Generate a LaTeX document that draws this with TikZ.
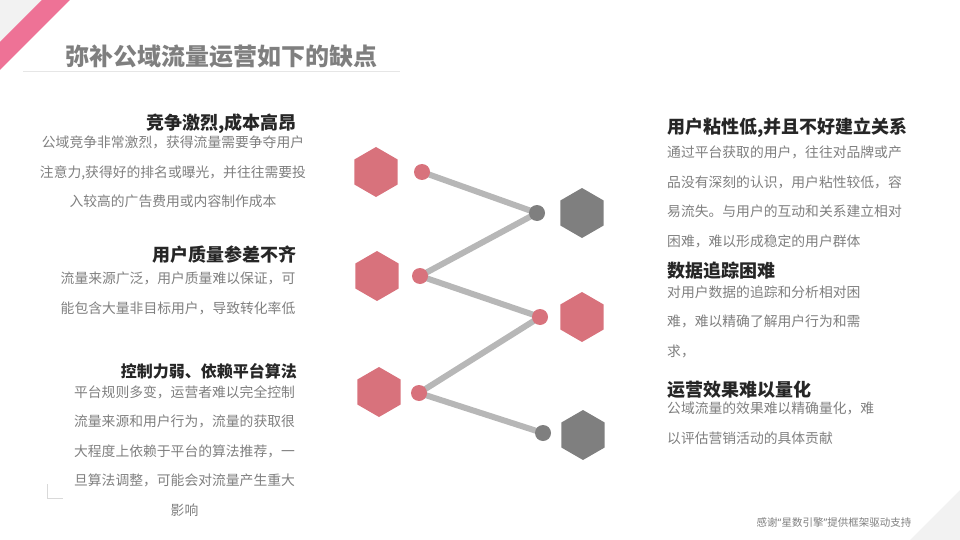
\documentclass[tikz,border=0pt]{standalone}
\usepackage{fontspec}
\setmainfont{Noto Sans CJK SC}
\newfontfamily\quotefont{Noto Sans}
\usetikzlibrary{shapes.geometric,backgrounds}
\definecolor{hexpink}{RGB}{216,114,124}
\definecolor{hexgrey}{RGB}{127,127,127}
\definecolor{linkgrey}{RGB}{183,183,183}
\definecolor{stripepink}{RGB}{238,114,150}
\definecolor{cornergrey}{RGB}{242,242,242}
\definecolor{titlegrey}{RGB}{127,127,127}
\definecolor{headdark}{RGB}{38,38,38}
\definecolor{bodygrey}{RGB}{127,127,127}
\definecolor{rulegrey}{RGB}{230,230,230}
\definecolor{markgrey}{RGB}{217,217,217}
\tikzset{
  hexa/.style={regular polygon, regular polygon sides=6, shape border rotate=30,
    minimum size=50pt, inner sep=0pt, draw=none},
  dot/.style={circle, minimum size=16pt, inner sep=0pt, draw=none},
  link/.style={line width=6pt, draw=linkgrey},
  head/.style={inner sep=0pt, text=headdark, font=\fontsize{18}{18}\selectfont\bfseries},
  headsmall/.style={inner sep=0pt, text=headdark, font=\fontsize{16}{16}\selectfont\bfseries},
  body/.style={inner sep=0pt, text=bodygrey, font=\fontsize{13.8}{14}\selectfont},
}
\begin{document}
\begin{tikzpicture}[x=1pt,y=-1pt]
\useasboundingbox (0,0) rectangle (960,540);
% corner decorations
\fill[cornergrey] (0,0) -- (42,0) -- (0,42) -- cycle;
\fill[stripepink] (42,0) -- (70,0) -- (0,70) -- (0,42) -- cycle;
\fill[cornergrey] (960,490) -- (960,540) -- (910,540) -- cycle;
\draw[markgrey, line width=1pt] (47,484) -- (47,498) -- (63,498);
% title
\node[anchor=base west, inner sep=0pt, text=titlegrey, font=\fontsize{24}{24}\selectfont\bfseries] (title) at (65,66) {弥补公域流量运营如下的缺点};
\draw[rulegrey, line width=1pt] (23,71.5) -- (400,71.5);
% hexagons
\node[hexa, fill=hexpink] (h1) at (376,172) {};
\node[hexa, fill=hexpink] (h2) at (377,276) {};
\node[hexa, fill=hexpink] (h3) at (379,392) {};
\node[hexa, fill=hexgrey] (g1) at (582,213) {};
\node[hexa, fill=hexpink] (g2) at (582,317) {};
\node[hexa, fill=hexgrey] (g3) at (583,435) {};
% dots
\node[dot, fill=hexpink] (c1) at (422,172) {};
\node[dot, fill=hexpink] (c2) at (420,276) {};
\node[dot, fill=hexpink] (c3) at (419,393) {};
\node[dot, fill=hexgrey] (d1) at (537,213) {};
\node[dot, fill=hexpink] (d2) at (540,317) {};
\node[dot, fill=hexgrey] (d3) at (543,433) {};
\begin{pgfonlayer}{background}
\draw[link] (c1.center) -- (d1.center) -- (c2.center) -- (d2.center) -- (c3.center) -- (d3.center);
\end{pgfonlayer}
% left block 1
\node[head, anchor=base east] (l1h) at (297,130) {竞争激烈,成本高昂};
\node[body, anchor=base] (l1a) at (173,147.3) {公域竞争非常激烈，获得流量需要争夺用户};
\node[body, anchor=base] (l1b) at (173,177.3) {注意力,获得好的排名或曝光，并往往需要投};
\node[body, anchor=base] (l1c) at (173,206.3) {入较高的广告费用或内容制作成本};
% left block 2
\node[head, anchor=base east] (l2h) at (297,261) {用户质量参差不齐};
\node[body, anchor=base] (l2a) at (178,283.3) {流量来源广泛，用户质量难以保证，可};
\node[body, anchor=base] (l2b) at (178,313.3) {能包含大量非目标用户，导致转化率低};
% left block 3
\node[headsmall, anchor=base east] (l3h) at (297,377) {控制力弱、依赖平台算法};
\node[body, anchor=base] (l3a) at (184.5,397.3) {平台规则多变，运营者难以完全控制};
\node[body, anchor=base] (l3b) at (184.5,426.3) {流量来源和用户行为，流量的获取很};
\node[body, anchor=base] (l3c) at (184.5,456.3) {大程度上依赖于平台的算法推荐，一};
\node[body, anchor=base] (l3d) at (184.5,485.3) {旦算法调整，可能会对流量产生重大};
\node[body, anchor=base] (l3e) at (184.5,515.3) {影响};
% right block 1
\node[head, anchor=base west] (r1h) at (667,134) {用户粘性低,并且不好建立关系};
\node[body, anchor=base west] (r1a) at (667,157.3) {通过平台获取的用户，往往对品牌或产};
\node[body, anchor=base west] (r1b) at (667,187.3) {品没有深刻的认识，用户粘性较低，容};
\node[body, anchor=base west] (r1c) at (667,216.3) {易流失。与用户的互动和关系建立相对};
\node[body, anchor=base west] (r1d) at (667,246.3) {困难，难以形成稳定的用户群体};
% right block 2
\node[head, anchor=base west] (r2h) at (667,277.5) {数据追踪困难};
\node[body, anchor=base west] (r2a) at (667,297.3) {对用户数据的追踪和分析相对困};
\node[body, anchor=base west] (r2b) at (667,326.3) {难，难以精确了解用户行为和需};
\node[body, anchor=base west] (r2c) at (667,356.3) {求，};
% right block 3
\node[head, anchor=base west] (r3h) at (667,396) {运营效果难以量化};
\node[body, anchor=base west] (r3a) at (667,413.3) {公域流量的效果难以精确量化，难};
\node[body, anchor=base west] (r3b) at (667,443.3) {以评估营销活动的具体贡献};
% footer
\node[inner sep=0pt, anchor=base, text=bodygrey, font=\fontsize{10.5}{11}\selectfont] (foot) at (834,526) {感谢{\quotefont “}星数引擎{\quotefont ”}提供框架驱动支持};
\end{tikzpicture}
\end{document}
